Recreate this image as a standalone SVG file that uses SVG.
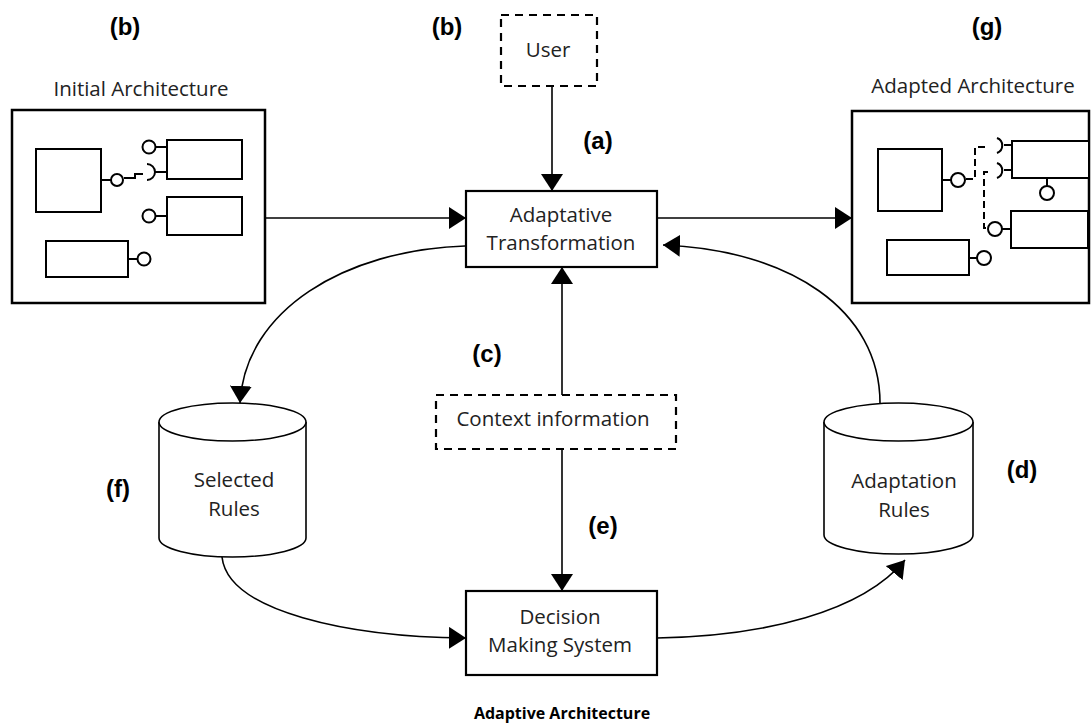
<svg xmlns="http://www.w3.org/2000/svg" width="1091" height="727" viewBox="0 0 1091 727">
<defs>
<marker id="ah" markerUnits="userSpaceOnUse" markerWidth="18" markerHeight="22" refX="17" refY="11" orient="auto">
<path d="M0,0 L17,11 L0,22 z" fill="#000"/>
</marker>
</defs>
<style>
.box{fill:#fff;stroke:#000;stroke-width:2.2}
.dash{fill:#fff;stroke:#000;stroke-width:2.2;stroke-dasharray:8 6}
.frame{fill:#fff;stroke:#000;stroke-width:2.5}
.cmp{fill:#fff;stroke:#000;stroke-width:2}
.ln{fill:none;stroke:#000;stroke-width:2}
.dl{fill:none;stroke:#000;stroke-width:2;stroke-dasharray:7 4}
.cn{fill:none;stroke:#000;stroke-width:1.6}
.cyl{fill:#fff;stroke:#000;stroke-width:1.6}
.t{font-family:"Open Sans","DejaVu Sans",sans-serif;font-size:20.5px;fill:#222;text-anchor:middle}
.s{font-family:"Open Sans","DejaVu Sans",sans-serif;font-size:20.5px;fill:#222;text-anchor:middle}
.lb{font-family:"Liberation Sans",Arial,sans-serif;font-weight:bold;font-size:24px;fill:#000;text-anchor:middle}
.ti{font-family:"Open Sans","DejaVu Sans",sans-serif;font-weight:bold;font-size:16px;fill:#000;text-anchor:middle}
</style>
<rect width="1091" height="727" fill="#fff"/>

<g id="connectors">
<line class="cn" x1="552" y1="86" x2="552" y2="191" marker-end="url(#ah)"/>
<line class="cn" x1="266" y1="218" x2="466" y2="218" marker-end="url(#ah)"/>
<line class="cn" x1="658" y1="218" x2="852" y2="218" marker-end="url(#ah)"/>
<line class="cn" x1="562" y1="395" x2="562" y2="267" marker-end="url(#ah)"/>
<line class="cn" x1="562" y1="449" x2="562" y2="591" marker-end="url(#ah)"/>
<path class="cn" d="M465,246 C345,250 245,310 240,403" marker-end="url(#ah)"/>
<path class="cn" d="M222,557 C228,612 350,637 466,638" marker-end="url(#ah)"/>
<path class="cn" d="M657,638 C765,636 862,612 905,560" marker-end="url(#ah)"/>
<path class="cn" d="M880,403 C880,310 790,250 663,245" marker-end="url(#ah)"/>
</g>

<g id="initial-architecture">
<text class="s" x="141" y="96">Initial Architecture</text>
<rect class="frame" x="12" y="110" width="253" height="193"/>
<rect class="cmp" x="36" y="149" width="65" height="63"/>
<line class="ln" x1="101" y1="180" x2="111" y2="180"/>
<circle class="cmp" cx="117" cy="180" r="6"/>
<path class="ln" d="M124,178 L135,178 L135,174 L143,174"/>
<path class="ln" d="M147,164 A8,8 0 0 1 147,180"/>
<line class="ln" x1="155" y1="172" x2="167" y2="172"/>
<rect class="cmp" x="167" y="140" width="75" height="39"/>
<circle class="cmp" cx="149" cy="147" r="6.5"/>
<line class="ln" x1="155.5" y1="147" x2="167" y2="147"/>
<rect class="cmp" x="167" y="197" width="75" height="38"/>
<circle class="cmp" cx="149" cy="216" r="6.5"/>
<line class="ln" x1="155.5" y1="216" x2="167" y2="216"/>
<rect class="cmp" x="46" y="241" width="82" height="36"/>
<line class="ln" x1="128" y1="259" x2="137.5" y2="259"/>
<circle class="cmp" cx="144" cy="259" r="6.5"/>
</g>

<g id="adapted-architecture">
<text class="s" x="973" y="93">Adapted Architecture</text>
<rect class="frame" x="852" y="111" width="237" height="192"/>
<rect class="cmp" x="878" y="149" width="64" height="62"/>
<line class="ln" x1="942" y1="180" x2="951" y2="180"/>
<circle class="cmp" cx="958" cy="180" r="7"/>
<path class="dl" d="M966,179 L975,179 L975,147 L986,147"/>
<path class="dl" d="M988,172 L984,172 L984,228 L989,228"/>
<path class="ln" d="M997,138 A8,8 0 0 1 997,153"/>
<line class="ln" x1="1004" y1="145" x2="1012" y2="145"/>
<path class="ln" d="M997,163 A8,8 0 0 1 997,178"/>
<line class="ln" x1="1004" y1="170" x2="1012" y2="170"/>
<rect class="cmp" x="1012" y="141" width="77" height="37"/>
<line class="ln" x1="1047" y1="178" x2="1047" y2="186"/>
<circle class="cmp" cx="1047" cy="193" r="7"/>
<rect class="cmp" x="1011" y="211" width="77" height="37"/>
<circle class="cmp" cx="995" cy="229" r="7"/>
<line class="ln" x1="1002" y1="229" x2="1011" y2="229"/>
<rect class="cmp" x="887" y="240" width="82" height="35"/>
<line class="ln" x1="969" y1="258" x2="977" y2="258"/>
<circle class="cmp" cx="984" cy="258" r="7"/>
</g>

<g id="user">
<rect class="dash" x="501" y="15" width="96" height="71"/>
<text class="t" x="548" y="57">User</text>
</g>

<g id="adaptative-transformation">
<rect class="box" x="466" y="191" width="191" height="76"/>
<text class="t" x="561" y="222">Adaptative</text>
<text class="t" x="561" y="250">Transformation</text>
</g>

<g id="context-information">
<rect class="dash" x="436" y="395" width="240" height="54"/>
<text class="t" x="553" y="426">Context information</text>
</g>

<g id="decision-making-system">
<rect class="box" x="466" y="591" width="191" height="84"/>
<text class="t" x="560" y="624">Decision</text>
<text class="t" x="560" y="652">Making System</text>
</g>

<g id="selected-rules">
<path class="cyl" d="M159,422 L159,538 A73.5,19 0 0 0 306,538 L306,422"/>
<ellipse class="cyl" cx="232.5" cy="422" rx="73.5" ry="19"/>
<text class="t" x="234" y="487">Selected</text>
<text class="t" x="234" y="516">Rules</text>
</g>

<g id="adaptation-rules">
<path class="cyl" d="M824,422 L824,535 A74.5,19 0 0 0 973,535 L973,422"/>
<ellipse class="cyl" cx="898.5" cy="422" rx="74.5" ry="19"/>
<text class="t" x="904" y="488">Adaptation</text>
<text class="t" x="904" y="517">Rules</text>
</g>

<g id="labels">
<text class="lb" x="125" y="35">(b)</text>
<text class="lb" x="447" y="35">(b)</text>
<text class="lb" x="987" y="35">(g)</text>
<text class="lb" x="598" y="149">(a)</text>
<text class="lb" x="487" y="362">(c)</text>
<text class="lb" x="118" y="497">(f)</text>
<text class="lb" x="1022" y="478">(d)</text>
<text class="lb" x="603" y="534">(e)</text>
<text class="ti" x="562" y="719">Adaptive Architecture</text>
</g>
</svg>
